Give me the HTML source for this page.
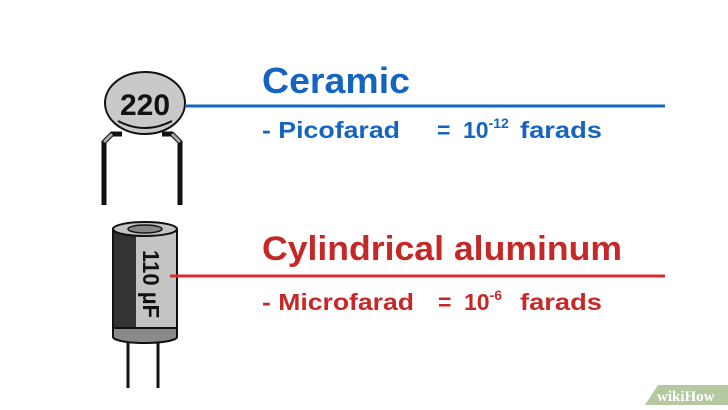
<!DOCTYPE html>
<html><head><style>html,body{margin:0;padding:0;background:#fff}svg{display:block}</style></head>
<body>
<svg width="728" height="410" viewBox="0 0 728 410" xmlns="http://www.w3.org/2000/svg" font-family="Liberation Sans, Arial, sans-serif" font-weight="bold">
<!-- ceramic legs -->
<path d="M104 205 V142 L112 134 H122" fill="none" stroke="#111" stroke-width="5"/>
<path d="M104 142 L112 134" stroke="#aaa" stroke-width="3"/>
<path d="M180 205 V142 L172 134 H162" fill="none" stroke="#111" stroke-width="5"/>
<path d="M180 142 L172 134" stroke="#aaa" stroke-width="3"/>
<ellipse cx="145" cy="103" rx="40" ry="31" fill="#c9c9c9" stroke="#111" stroke-width="2"/>
<text x="145" y="115" text-anchor="middle" font-size="30" fill="#111">220</text>
<path d="M118 121 Q145 135 172 121" fill="none" stroke="#111" stroke-width="2"/>
<line x1="185" y1="106" x2="665" y2="106" stroke="#1565c0" stroke-width="3"/>
<text x="262" y="93" font-size="36" fill="#1565c0" textLength="148" lengthAdjust="spacingAndGlyphs">Ceramic</text>
<text x="262" y="138" font-size="23" fill="#1565c0" textLength="138" lengthAdjust="spacingAndGlyphs">- Picofarad</text>
<text x="437" y="138" font-size="23" fill="#1565c0">=</text>
<text x="463" y="138" font-size="23" fill="#1565c0">10<tspan dy="-10" font-size="14">-12</tspan></text>
<text x="520" y="138" font-size="23" fill="#1565c0" textLength="82" lengthAdjust="spacingAndGlyphs">farads</text>
<!-- cylinder -->
<line x1="128" y1="336" x2="128" y2="388" stroke="#111" stroke-width="3"/>
<line x1="158" y1="336" x2="158" y2="388" stroke="#111" stroke-width="3"/>
<path d="M113 325 V337 A32 6 0 0 0 177 337 V325 Z" fill="#8a8a8a" stroke="#111" stroke-width="2"/>
<rect x="113" y="229" width="64" height="99" fill="#c4c4c4" stroke="#111" stroke-width="2"/>
<rect x="114" y="232" width="22" height="95" fill="#333"/>
<ellipse cx="145" cy="229" rx="32" ry="7" fill="#c4c4c4" stroke="#111" stroke-width="2"/>
<ellipse cx="145" cy="229" rx="17" ry="4" fill="#888" stroke="#111" stroke-width="1.5"/>
<text transform="translate(143,250) rotate(90)" font-size="23" fill="#111" textLength="68" lengthAdjust="spacingAndGlyphs">110 µF</text>
<line x1="170" y1="276" x2="665" y2="276" stroke="#d32f2f" stroke-width="3"/>
<text x="262" y="260" font-size="34" fill="#c62828" textLength="360" lengthAdjust="spacingAndGlyphs">Cylindrical aluminum</text>
<text x="262" y="310" font-size="23" fill="#c62828" textLength="152" lengthAdjust="spacingAndGlyphs">- Microfarad</text>
<text x="438" y="310" font-size="23" fill="#c62828">=</text>
<text x="464" y="310" font-size="23" fill="#c62828">10<tspan dy="-10" font-size="14">-6</tspan></text>
<text x="520" y="310" font-size="23" fill="#c62828" textLength="82" lengthAdjust="spacingAndGlyphs">farads</text>
<!-- wikiHow -->
<polygon points="658,385 728,385 728,405 645,405" fill="#b5c9a0"/>
<text x="657" y="401" font-family="Liberation Serif, serif" font-size="15" fill="#fff">wikiHow</text>
</svg>
</body></html>
